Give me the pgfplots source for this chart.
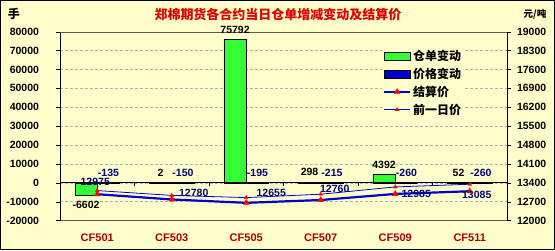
\documentclass[border=0pt]{standalone}
\usepackage{pgfplots}
\usepackage{pgfplotstable}
\pgfplotsset{compat=1.18}
\usepackage{fontspec}
\setmainfont{Liberation Sans}
\newfontfamily\cjk{Noto Sans CJK SC}
\definecolor{bg}{HTML}{FFFFCC}
\definecolor{bargreen}{HTML}{33FF33}
\definecolor{barblue}{HTML}{0000CC}
\definecolor{linblue}{HTML}{0000CC}
\definecolor{navy}{HTML}{000080}
\definecolor{titlered}{HTML}{E00000}
\definecolor{catred}{HTML}{B00000}
\pgfplotstableread{
x chg
0 -6602
1 2
2 75792
3 298
4 4392
5 52
}\receipts
\pgfplotstableread{
x dp
0 -135
1 -150
2 -195
3 -215
4 -260
5 -260
}\pricechg
\pgfplotstableread{
x settle lx ly
0 12975 -2 12.7
1 12780 22 6.3
2 12655 25 10
3 12760 14 11
4 12985 21 0
5 13085 7 -4
}\settle
\pgfplotstableread{
x prev
0 13110
1 12930
2 12850
3 12975
4 13245
5 13345
}\prevday
\begin{document}
\begin{tikzpicture}
\useasboundingbox (-60pt,-29.5pt) rectangle (495pt,220.5pt);
\fill[bg] (-60pt,-29.5pt) rectangle (495pt,220.5pt);
\draw[black,line width=1pt] (-59.5pt,-29pt) rectangle (494.5pt,220pt);
\begin{axis}[
  at={(0pt,0pt)}, anchor=south west,
  scale only axis, width=447pt, height=188.8pt,
  xmin=-0.5, xmax=5.5, ymin=-20000, ymax=80000,
  ytick={-20000,-10000,...,80000},
  xtick={0,...,5}, xticklabels={CF501,CF503,CF505,CF507,CF509,CF511},
  xtick style={draw=none},
  xticklabel style={font=\bfseries\fontsize{11}{12}\selectfont, text=catred, yshift=-5.5pt},
  yticklabel style={font=\bfseries\fontsize{10.5}{12}\selectfont, xshift=-13.5pt},
  scaled y ticks=false,
  /pgf/number format/.cd, 1000 sep={}, assume math mode=true, /pgfplots/.cd,
  axis y line*=left, axis x line*=bottom,
  axis line style={gray!70!black},
  y axis line style={black},
  tick align=outside, major tick length=4pt,
  ytick style={black},
  ymajorgrids, grid style={gray!60, dash pattern=on 3pt off 2pt},
  ybar, bar width=0.3,
  axis background/.style={fill=none},
  clip=false,
]
\addplot[ybar, bar shift=-0.15, fill=bargreen, draw=black,
  nodes near coords,
  every node near coord/.append style={font=\bfseries\fontsize{10.5}{12}\selectfont, text=black, inner ysep=6pt}]
  table[x=x,y=chg] {\receipts};
\addplot[ybar, bar shift=0.15, fill=barblue, draw=black,
  nodes near coords,
  every node near coord/.append style={font=\bfseries\fontsize{10.5}{12}\selectfont, text=navy, anchor=south, inner ysep=6pt}]
  table[x=x,y=dp] {\pricechg};
\draw[black, line width=0.8pt] (axis cs:-0.5,0) -- (axis cs:5.5,0);
\pgfplotsinvokeforeach{0.5,1.5,2.5,3.5,4.5}{\draw[black] (axis cs:#1,0) -- ++(0pt,-3pt);}
\draw[gray!70!black] (axis cs:-0.5,80000) -- (axis cs:5.5,80000);
\end{axis}
\begin{axis}[
  at={(0pt,0pt)}, anchor=south west,
  scale only axis, width=447pt, height=188.8pt,
  xmin=-0.5, xmax=5.5, ymin=12000, ymax=19000,
  ytick={12000,12700,...,19000},
  axis y line*=right, axis x line=none,
  y axis line style={black},
  tick align=outside, major tick length=4pt,
  ytick style={black},
  yticklabel style={font=\bfseries\fontsize{10.5}{12}\selectfont, xshift=2.5pt},
  scaled y ticks=false,
  /pgf/number format/.cd, 1000 sep={}, assume math mode=true, /pgfplots/.cd,
  legend image code/.code={\draw[mark repeat=2,mark phase=2,#1] plot coordinates {(0pt,0pt) (13pt,0pt) (26pt,0pt)};},
  legend style={font=\cjk\bfseries\fontsize{12}{13}\selectfont, draw=none, fill=bg,
    at={(0.72,0.925)}, anchor=north west, inner sep=1pt, row sep=0pt,
    nodes={inner ysep=3pt, inner xsep=2pt}},
  legend cell align=left,
  clip=false,
]
\addlegendimage{legend image code/.code={\draw[fill=bargreen,draw=black] (0pt,-4pt) rectangle (26pt,4pt);}}
\addlegendentry{仓单变动}
\addlegendimage{legend image code/.code={\draw[fill=barblue,draw=black] (0pt,-4pt) rectangle (26pt,4pt);}}
\addlegendentry{价格变动}
\addplot[linblue, line width=2.2pt, mark=triangle*, mark size=3.2pt, mark options={fill=red, draw=red, line width=0.5pt},
  nodes near coords,
  visualization depends on={\thisrow{lx}\as\lblx},
  visualization depends on={\thisrow{ly}\as\lbly},
  every node near coord/.append style={font=\bfseries\fontsize{10.5}{12}\selectfont, text=navy, anchor=center, xshift=\lblx pt, yshift=\lbly pt}]
  table[x=x,y=settle] {\settle};
\addlegendentry{结算价}
\addplot[linblue, line width=0.8pt, mark=triangle*, mark size=2.2pt, mark options={fill=red, draw=red, line width=0.3pt}]
  table[x=x,y=prev] {\prevday};
\addlegendentry{前一日价}
\end{axis}
\node[font=\cjk\bfseries\fontsize{13}{15}\selectfont, text=titlered] at (218pt,205.5pt) {郑棉期货各合约当日仓单增减变动及结算价};
\node[font=\cjk\bfseries\fontsize{12}{14}\selectfont] at (-46pt,206.5pt) {手};
\node[font=\cjk\bfseries\fontsize{9.5}{11}\selectfont] at (475pt,206.5pt) {元/吨};
\end{tikzpicture}
\end{document}
